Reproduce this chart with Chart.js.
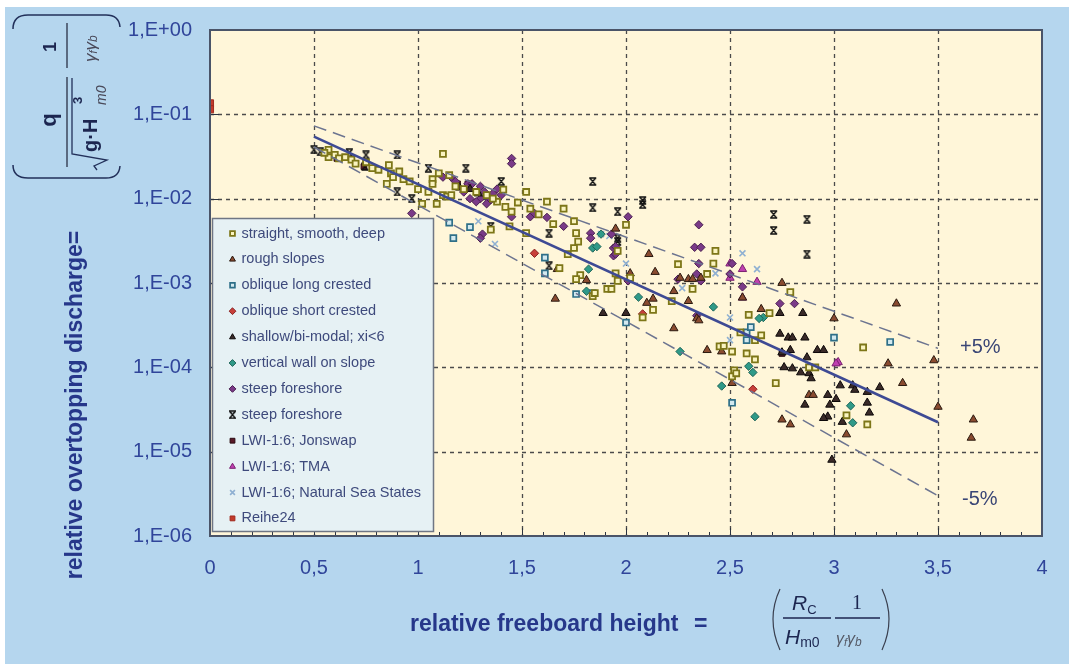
<!DOCTYPE html>
<html>
<head>
<meta charset="utf-8">
<title>Overtopping discharge</title>
<script src="https://cdn.jsdelivr.net/npm/chart.js@4.4.1/dist/chart.umd.min.js"></script>
<style>
  html, body { margin: 0; padding: 0; background: #ffffff; }
  #wrap { width: 1069px; height: 664px; position: relative; }
  canvas { display: block; }
</style>
</head>
<body>
<div id="wrap"><canvas id="grafico" width="1069" height="664" style="width:1069px;height:664px"></canvas></div>
<script>
// ---- measured data: [relative freeboard, relative discharge] ----
const straightSmoothDeep = [[0.57,3.8e-2],[0.57,3.1e-2],[0.60,3.3e-2],[0.65,3.1e-2],[0.68,2.9e-2],[0.75,2.7e-2],[0.81,2.2e-2],[0.86,2.5e-2],[0.87,2.0e-2],[0.88,1.8e-2],[0.85,1.5e-2],[0.91,2.1e-2],[0.93,1.7e-2],[0.96,1.6e-2],[1.0,1.3e-2],[1.12,3.4e-2],[1.07,1.7e-2],[1.07,1.5e-2],[1.05,1.2e-2],[1.12,1.1e-2],[1.02,8.7e-3],[1.09,8.7e-3],[1.14,1.06e-2],[1.16,1.1e-2],[1.38,9.2e-3],[1.41,1.28e-2],[1.42,8.0e-3],[1.44,4.7e-3],[1.35,4.3e-3],[1.45,7.0e-3],[1.52,1.2e-2],[1.54,7.6e-3],[1.62,9.2e-3],[1.70,7.6e-3],[1.75,5.4e-3],[1.76,3.9e-3],[1.77,3.1e-3],[1.72,2.2e-3],[1.75,2.6e-3],[1.78,1.24e-3],[1.76,1.11e-3],[1.68,1.5e-3],[1.52,3.9e-3],[1.95,1.3e-3],[1.91,8.5e-4],[1.93,8.5e-4],[2.0,4.9e-3],[1.96,2.4e-3],[1.96,1.06e-3],[1.84,7.0e-4],[1.85,7.6e-4],[2.02,1.15e-3],[2.25,1.67e-3],[2.32,8.5e-4],[2.22,6.1e-4],[2.13,4.8e-4],[2.08,3.9e-4],[2.39,1.28e-3],[2.42,1.7e-3],[2.43,2.4e-3],[2.79,7.8e-4],[2.69,4.4e-4],[2.59,4.2e-4],[2.55,2.6e-4],[2.65,2.4e-4],[2.62,2.1e-4],[2.45,1.77e-4],[2.47,1.8e-4],[2.51,1.54e-4],[2.58,1.46e-4],[2.62,1.24e-4],[2.52,9.2e-5],[2.51,7.8e-5],[2.53,8.5e-5],[2.88,1.0e-4],[2.91,1.0e-4],[2.72,6.5e-5],[3.06,2.7e-5],[3.14,1.72e-4],[3.16,2.1e-5],[0.55,3.5e-2],[0.62,3.0e-2],[0.70,2.6e-2],[0.78,2.3e-2],[1.10,2.0e-2],[1.15,1.9e-2],[1.18,1.4e-2],[1.22,1.3e-2],[1.28,1.2e-2],[1.33,1.1e-2],[1.36,1.0e-2],[1.48,9.0e-3],[1.58,6.5e-3],[1.65,5.0e-3]];
const roughSlopes = [[2.11,2.2e-3],[2.14,1.35e-3],[2.26,1.15e-3],[2.30,1.11e-3],[2.32,1.11e-3],[2.36,1.15e-3],[2.23,8.0e-4],[2.13,6.5e-4],[2.10,5.8e-4],[2.30,6.1e-4],[2.34,3.8e-4],[2.39,1.6e-4],[2.51,6.5e-5],[2.75,1.0e-3],[3.30,5.7e-4],[3.48,1.21e-4],[3.50,3.4e-5],[3.67,2.4e-5],[3.66,1.46e-5],[1.66,6.5e-4],[1.81,1.08e-3],[1.67,1.46e-3],[1.95,4.4e-3],[2.02,1.3e-3],[2.35,3.6e-4],[2.56,6.7e-4],[2.65,4.9e-4],[2.88,4.7e-5],[2.90,4.7e-5],[2.79,2.1e-5],[2.75,2.4e-5],[3.06,1.6e-5],[3.26,1.11e-4],[3.33,6.5e-5],[3.0,3.8e-4],[2.23,2.9e-4],[2.46,1.54e-4]];
const obliqueLong = [[1.15,5.2e-3],[1.17,3.4e-3],[1.25,4.6e-3],[1.61,2.0e-3],[1.61,1.3e-3],[1.76,7.4e-4],[1.84,7.6e-4],[2.0,3.4e-4],[2.58,2.6e-4],[2.58,2.1e-4],[3.0,2.25e-4],[3.27,2.0e-4],[2.51,3.8e-5],[2.60,3.0e-4]];
const obliqueShort = [[1.56,2.25e-3],[2.08,4.3e-4],[2.61,5.5e-5]];
const shallowBimodal = [[1.20,1.35e-2],[1.25,1.3e-2],[1.29,1.15e-2],[1.89,4.4e-4],[2.0,4.4e-4],[2.74,4.4e-4],[2.85,4.4e-4],[2.74,2.5e-4],[2.78,2.25e-4],[2.80,2.25e-4],[2.86,2.25e-4],[2.79,1.6e-4],[2.75,1.5e-4],[2.87,1.31e-4],[2.92,1.6e-4],[2.95,1.6e-4],[2.76,1.0e-4],[2.80,9.7e-5],[2.84,8.7e-5],[2.88,8.5e-5],[2.89,7.4e-5],[3.03,6.1e-5],[3.09,6.1e-5],[3.10,5.4e-5],[3.16,5.1e-5],[3.22,5.8e-5],[2.97,4.7e-5],[2.98,3.6e-5],[3.01,4.2e-5],[2.86,3.6e-5],[2.97,2.6e-5],[2.95,2.5e-5],[3.04,2.25e-5],[3.16,3.8e-5],[3.17,2.9e-5],[2.99,8.0e-6]];
const verticalWall = [[2.06,6.8e-4],[2.26,1.54e-4],[2.42,5.2e-4],[2.46,6.0e-5],[2.59,1.03e-4],[2.61,8.7e-5],[2.62,2.6e-5],[2.66,3.9e-4],[2.64,3.8e-4],[3.08,3.5e-5],[3.09,2.2e-5],[1.88,3.8e-3],[1.84,2.6e-3],[1.86,2.7e-3],[1.82,1.46e-3],[1.81,8.0e-4]];
const steepForeshore = [[1.45,3.0e-2],[1.45,2.6e-2],[1.12,1.8e-2],[1.16,1.8e-2],[1.18,1.6e-2],[1.24,1.5e-2],[1.26,1.5e-2],[1.30,1.4e-2],[1.32,1.2e-2],[1.36,1.15e-2],[1.38,1.3e-2],[1.40,1.1e-2],[1.22,1.2e-2],[1.30,1.0e-2],[1.25,1.0e-2],[1.28,9.2e-3],[1.35,9.7e-3],[1.33,8.7e-3],[1.45,6.1e-3],[1.54,6.1e-3],[1.56,6.7e-3],[1.62,6.0e-3],[1.70,4.7e-3],[1.83,3.9e-3],[1.83,3.4e-3],[1.94,2.6e-3],[1.94,2.1e-3],[2.01,6.1e-3],[1.93,3.8e-3],[2.01,1.06e-3],[2.35,4.9e-3],[2.33,2.65e-3],[2.36,2.65e-3],[2.35,1.7e-3],[2.34,1.28e-3],[2.36,1.06e-3],[2.34,4.1e-4],[1.31,3.8e-3],[1.30,3.4e-3],[2.51,1.7e-3],[2.50,1.28e-3],[2.56,9.0e-4],[2.81,5.7e-4],[2.74,5.7e-4],[2.25,1.11e-3],[1.95,2.7e-3],[1.95,2.2e-3],[0.97,6.7e-3]];
const steepForeshoreX = [[0.50,3.8e-2],[0.53,3.6e-2],[0.67,3.5e-2],[0.75,3.3e-2],[0.90,3.3e-2],[1.05,2.3e-2],[1.23,2.3e-2],[1.40,1.6e-2],[1.84,1.6e-2],[2.08,9.5e-3],[2.08,8.5e-3],[1.84,7.8e-3],[1.96,7.0e-3],[1.63,3.9e-3],[1.96,3.4e-3],[1.35,4.7e-3],[1.63,1.6e-3],[2.71,6.5e-3],[2.71,4.2e-3],[2.87,5.7e-3],[2.87,2.2e-3],[0.745,2.4e-2],[0.90,1.2e-2],[0.97,1.0e-2],[1.96,3.1e-3]];
const lwiJonswap = [[0.61,3.0e-2],[0.68,2.9e-2],[0.74,2.4e-2],[1.19,1.5e-2],[1.24,1.5e-2],[2.75,1.46e-4]];
const lwiTMA = [[2.50,1.7e-3],[2.56,1.46e-3],[2.50,1.15e-3],[2.56,6.7e-4],[2.63,1.03e-3],[3.02,1.15e-4],[3.01,1.11e-4]];
const lwiNatural = [[2.56,2.25e-3],[2.63,1.46e-3],[2.27,8.7e-4],[2.43,1.3e-3],[2.50,3.9e-4],[2.50,2.1e-4],[1.88,3.8e-3],[1.92,3.6e-3],[2.0,1.7e-3],[1.29,5.4e-3],[1.37,2.9e-3]];
const reihe24 = [[0,0.135],[0,0.115]];

// mean curve and 5% bounds (straight lines on the log axis)
const fitX = [0.5, 3.5];
const meanFit = [0.0545, 2.23e-5];
const upperFit = [0.073, 1.68e-4];
const lowerFit = [0.041, 3.0e-6];

const xTicks = [0, 0.5, 1, 1.5, 2, 2.5, 3, 3.5, 4];
const yTicks = [1e-6, 1e-5, 1e-4, 1e-3, 1e-2, 1e-1, 1];

const FONT = '"Liberation Sans", Arial, sans-serif';
const TICK_COLOR = '#30459a';
const TITLE_COLOR = '#26378a';

const pts = arr => arr.map(p => ({ x: p[0], y: p[1] }));
const line = ys => fitX.map((x, i) => ({ x: x, y: ys[i] }));

// small "hourglass" cross used by the second steep foreshore series
function hourglass() {
  const c = document.createElement('canvas');
  c.width = 9; c.height = 9;
  const g = c.getContext('2d');
  g.strokeStyle = '#111'; g.lineWidth = 1.4;
  g.beginPath();
  g.moveTo(1, 1); g.lineTo(8, 1);
  g.moveTo(1, 8); g.lineTo(8, 8);
  g.moveTo(1.5, 1); g.lineTo(7.5, 8);
  g.moveTo(7.5, 1); g.lineTo(1.5, 8);
  g.stroke();
  return c;
}

function serie(label, data, style, fill, border, radius, bw) {
  return {
    label: label, data: pts(data), pointStyle: style, pointRadius: radius,
    backgroundColor: fill, borderColor: border, borderWidth: bw,
    pointHoverRadius: radius, showLine: false, inLegend: true
  };
}

const datasets = [
  { label: 'mean', data: line(meanFit), showLine: true, pointRadius: 0, borderColor: '#3e4a94', borderWidth: 2.6 },
  { label: 'upper', data: line(upperFit), showLine: true, pointRadius: 0, borderColor: '#6c7490', borderWidth: 1.5, borderDash: [13, 7] },
  { label: 'lower', data: line(lowerFit), showLine: true, pointRadius: 0, borderColor: '#6c7490', borderWidth: 1.5, borderDash: [13, 7] },
  serie('straight, smooth, deep', straightSmoothDeep, 'rect', '#faf4c0', '#7d7618', 4.2, 1.8),
  serie('rough slopes', roughSlopes, 'triangle', '#8a4b30', '#2a1a10', 4.8, 1),
  serie('oblique long crested', obliqueLong, 'rect', '#d3e9ef', '#2e6f88', 4.2, 1.7),
  serie('oblique short crested', obliqueShort, 'rectRot', '#c8403a', '#8a2222', 4.2, 1),
  serie('shallow/bi-modal; xi<6', shallowBimodal, 'triangle', '#3a2a28', '#0c0808', 4.8, 1),
  serie('vertical wall on slope', verticalWall, 'rectRot', '#2f9a88', '#1d6458', 4.2, 1),
  serie('steep foreshore', steepForeshore, 'rectRot', '#7a3a88', '#4a2050', 4.2, 1),
  serie('steep foreshore', steepForeshoreX, hourglass(), '#111', '#111', 4.5, 1),
  serie('LWI-1:6; Jonswap', lwiJonswap, 'rect', '#5a1a28', '#2a0a10', 4, 1),
  serie('LWI-1:6; TMA', lwiTMA, 'triangle', '#c040b0', '#7a2070', 4.8, 1),
  serie('LWI-1:6; Natural Sea States', lwiNatural, 'crossRot', '#8fb0d2', '#8fb0d2', 4.2, 1.6),
  serie('Reihe24', reihe24, 'rect', '#c23a2a', '#a02a1e', 5, 1)
];

// background, dashed grid, inward tick marks, frame
const framePlugin = {
  id: 'framePlugin',
  beforeDraw(chart) {
    const { ctx, width, height, chartArea: ca } = chart;
    ctx.save();
    ctx.fillStyle = '#ffffff'; ctx.fillRect(0, 0, width, height);
    ctx.fillStyle = '#b5d6ee'; ctx.fillRect(5, 7, width - 5, height - 7);
    ctx.fillStyle = '#fff6d9'; ctx.fillRect(ca.left, ca.top, ca.width, ca.height);
    ctx.restore();
  },
  beforeDatasetsDraw(chart) {
    const { ctx, chartArea: ca, scales: { x, y } } = chart;
    ctx.save();
    ctx.strokeStyle = '#4b4b4b'; ctx.lineWidth = 1.3; ctx.setLineDash([4, 4]);
    ctx.beginPath();
    xTicks.slice(1, -1).forEach(v => {
      const px = Math.round(x.getPixelForValue(v)) + 0.5;
      ctx.moveTo(px, ca.top); ctx.lineTo(px, ca.bottom);
    });
    yTicks.slice(1, -1).forEach(v => {
      const py = Math.round(y.getPixelForValue(v)) + 0.5;
      ctx.moveTo(ca.left, py); ctx.lineTo(ca.right, py);
    });
    ctx.stroke();
    ctx.setLineDash([]);
    ctx.strokeStyle = '#2c3440'; ctx.lineWidth = 1;
    ctx.beginPath();
    for (let i = 1; i < 40; i++) {
      const px = Math.round(x.getPixelForValue(i / 10)) + 0.5;
      const len = i % 5 === 0 ? 8 : 4;
      ctx.moveTo(px, ca.bottom); ctx.lineTo(px, ca.bottom - len);
    }
    yTicks.slice(1, -1).forEach(v => {
      const py = Math.round(y.getPixelForValue(v)) + 0.5;
      ctx.moveTo(ca.left, py); ctx.lineTo(ca.left + 9, py);
    });
    ctx.stroke();
    ctx.restore();
  },
  afterDatasetsDraw(chart) {
    const { ctx, chartArea: ca } = chart;
    ctx.save();
    ctx.strokeStyle = '#4a5468'; ctx.lineWidth = 2;
    ctx.strokeRect(ca.left, ca.top, ca.width, ca.height);
    ctx.restore();
  }
};

// legend box inside the plot
const legendPlugin = {
  id: 'legendPlugin',
  afterDatasetsDraw(chart) {
    const { ctx, chartArea: ca } = chart;
    const x0 = ca.left + 2.5, y0 = ca.top + 188.5, w = 221, h = 313;
    ctx.save();
    ctx.fillStyle = '#e6f1f4'; ctx.fillRect(x0, y0, w, h);
    ctx.strokeStyle = '#6f7684'; ctx.lineWidth = 1.5; ctx.strokeRect(x0, y0, w, h);
    ctx.font = '14.5px ' + FONT;
    ctx.textBaseline = 'middle'; ctx.textAlign = 'left';
    let row = 0;
    chart.data.datasets.forEach(ds => {
      if (!ds.inLegend) return;
      const yy = y0 + 15 + row * 25.9;
      ctx.fillStyle = ds.backgroundColor; ctx.strokeStyle = ds.borderColor;
      ctx.lineWidth = ds.borderWidth;
      Chart.helpers.drawPoint(ctx, { pointStyle: ds.pointStyle, radius: 3.4, borderWidth: ds.borderWidth, rotation: 0 }, x0 + 20, yy);
      ctx.fillStyle = '#3e4a7c';
      ctx.fillText(ds.label, x0 + 29, yy);
      row++;
    });
    ctx.restore();
  }
};

// draws a run of text pieces: [text, font, dy]
function run(ctx, x, y, parts) {
  parts.forEach(p => {
    ctx.font = p[1];
    ctx.fillText(p[0], x, y + p[2]);
    x += ctx.measureText(p[0]).width;
  });
}

const titlePlugin = {
  id: 'titlePlugin',
  afterDraw(chart) {
    const { ctx, scales: { x, y } } = chart;
    ctx.save();
    ctx.textBaseline = 'middle';

    // y axis title
    ctx.save();
    ctx.translate(76, 405); ctx.rotate(-Math.PI / 2);
    ctx.fillStyle = TITLE_COLOR; ctx.textAlign = 'center';
    ctx.font = 'bold 23px ' + FONT;
    ctx.fillText('relative overtopping discharge=', 0, 0);
    ctx.restore();

    // y formula in rounded brackets
    ctx.strokeStyle = '#22305a'; ctx.lineWidth = 1.5;
    ctx.beginPath();
    ctx.moveTo(13, 29); ctx.quadraticCurveTo(13, 15, 28, 15); ctx.lineTo(106, 15); ctx.quadraticCurveTo(119, 15, 120, 27);
    ctx.moveTo(13, 165); ctx.quadraticCurveTo(13, 178, 28, 178); ctx.lineTo(106, 178); ctx.quadraticCurveTo(119, 178, 120, 166);
    ctx.stroke();
    ctx.save();
    ctx.translate(67, 100); ctx.rotate(-Math.PI / 2);
    ctx.strokeStyle = '#5a6a80'; ctx.lineWidth = 2;
    ctx.beginPath(); ctx.moveTo(-67, 0); ctx.lineTo(23, 0); ctx.moveTo(32, 0); ctx.lineTo(77, 0); ctx.stroke();
    ctx.strokeStyle = '#22305a'; ctx.lineWidth = 1.3;
    ctx.beginPath(); ctx.moveTo(-70, 30); ctx.lineTo(-66, 27); ctx.lineTo(-60, 40); ctx.lineTo(-54, 5); ctx.lineTo(22, 5); ctx.stroke();
    ctx.fillStyle = '#1c2650'; ctx.textAlign = 'center';
    ctx.font = 'bold 22px ' + FONT; ctx.fillText('q', -20, -17);
    ctx.font = 'bold 18px ' + FONT; ctx.fillText('1', 53, -16);
    ctx.textAlign = 'left';
    run(ctx, -52, 24, [['g·H', 'bold 20px ' + FONT, 0]]);
    ctx.font = 'bold 13px ' + FONT; ctx.fillText('3', -4, 11);
    ctx.fillStyle = '#4a4a5a';
    ctx.font = 'italic 14px ' + FONT; ctx.fillText('m0', -5, 35);
    run(ctx, 38, 24, [['γ', 'italic 17px ' + FONT, 0], ['f', 'italic 11px ' + FONT, 3], ['γ', 'italic 17px ' + FONT, 0], ['b', 'italic 12px ' + FONT, 3]]);
    ctx.restore();

    // x axis title and formula
    ctx.fillStyle = TITLE_COLOR; ctx.textAlign = 'left';
    ctx.font = 'bold 23px ' + FONT;
    ctx.fillText('relative freeboard height', 410, 625);
    ctx.fillText('=', 694, 625);
    ctx.strokeStyle = '#3a4050'; ctx.lineWidth = 1.2;
    ctx.beginPath();
    ctx.moveTo(780, 589); ctx.quadraticCurveTo(766, 619, 780, 650);
    ctx.moveTo(882, 589); ctx.quadraticCurveTo(896, 619, 882, 650);
    ctx.stroke();
    ctx.strokeStyle = '#1c2650'; ctx.lineWidth = 1.4;
    ctx.beginPath(); ctx.moveTo(783, 618); ctx.lineTo(831, 618); ctx.moveTo(835, 618); ctx.lineTo(880, 618); ctx.stroke();
    ctx.fillStyle = '#1c2650';
    run(ctx, 792, 604, [['R', 'italic 21px ' + FONT, 0], ['C', '13px ' + FONT, 6]]);
    run(ctx, 785, 638, [['H', 'italic 21px ' + FONT, 0], ['m0', '14px ' + FONT, 5]]);
    ctx.font = '20px "Liberation Serif", serif'; ctx.fillText('1', 852, 604);
    ctx.fillStyle = '#555a66';
    run(ctx, 836, 640, [['γ', 'italic 16px ' + FONT, 0], ['f', 'italic 11px ' + FONT, 3], ['γ', 'italic 16px ' + FONT, 0], ['b', 'italic 12px ' + FONT, 3]]);

    // bound labels
    ctx.fillStyle = '#3a4676'; ctx.font = '20px ' + FONT;
    const xe = x.getPixelForValue(fitX[1]) + 22;
    ctx.fillText('+5%', xe, y.getPixelForValue(upperFit[1]) - 1);
    ctx.fillText('-5%', xe + 2, y.getPixelForValue(lowerFit[1]) + 4);
    ctx.restore();
  }
};

new Chart(document.getElementById('grafico'), {
  type: 'scatter',
  data: { datasets: datasets },
  options: {
    responsive: false,
    animation: false,
    events: [],
    layout: { padding: { top: 27, right: 27, left: 0, bottom: 0 } },
    plugins: { legend: { display: false }, tooltip: { enabled: false } },
    scales: {
      x: {
        type: 'linear', min: 0, max: 4,
        afterFit(s) { s.height = 128; },
        afterBuildTicks(s) { s.ticks = xTicks.map(v => ({ value: v })); },
        grid: { display: false, drawTicks: false },
        border: { display: false },
        ticks: {
          padding: 20, color: TICK_COLOR, font: { family: FONT, size: 20 },
          callback: v => String(v).replace('.', ',')
        }
      },
      y: {
        type: 'logarithmic', min: 1e-6, max: 1,
        afterFit(s) { s.width = 210; },
        afterBuildTicks(s) { s.ticks = yTicks.map(v => ({ value: v })); },
        grid: { display: false, drawTicks: false },
        border: { display: false },
        ticks: {
          padding: 18, color: TICK_COLOR, font: { family: FONT, size: 20 },
          callback: v => {
            const e = Math.round(Math.log10(v));
            return '1,E' + (e < 0 ? '-' : '+') + String(Math.abs(e)).padStart(2, '0');
          }
        }
      }
    }
  },
  plugins: [framePlugin, legendPlugin, titlePlugin]
});
</script>
</body>
</html>
